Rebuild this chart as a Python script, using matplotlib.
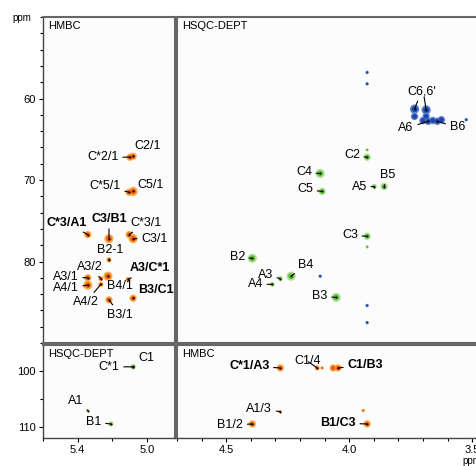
import matplotlib.pyplot as plt
from matplotlib.ticker import MultipleLocator

plt.rcParams['font.family'] = ['Liberation Sans', 'DejaVu Sans']

# HMBC, anomeric 1H vs ring 13C (top left)
hmbc_ring_labels = ['C*2/1', 'C2/1', 'C*5/1', 'C5/1', 'C*3/A1', 'C3/B1', 'C*3/1', 'C3/1',
                    'B2-1', 'A3/2', 'A3/1', 'A4/1', 'A4/2', 'B4/1', 'A3/C*1', 'B3/C1', 'B3/1']
hmbc_ring_h = [5.099, 5.081, 5.104, 5.081, 5.342, 5.220, 5.104, 5.081,
               5.220, 5.267, 5.342, 5.342, 5.267, 5.226, 5.110, 5.081, 5.220]
hmbc_ring_c = [67.2, 67.1, 71.5, 71.4, 76.7, 77.2, 76.7, 77.2,
               79.8, 82.1, 82.0, 82.9, 82.8, 81.8, 82.2, 84.5, 84.7]
hmbc_ring_int = [2, 2, 2, 3, 2, 3, 2, 3, 1, 1, 2, 3, 1, 3, 1, 2, 2]

# HSQC-DEPT, ring region (top right)
hsqc_ring_labels = ['C2', 'C4', 'C5', 'A5', 'B5', 'C3', 'B2', 'A3', 'B4', 'A4', 'B3']
hsqc_ring_h = [3.927, 4.118, 4.110, 3.898, 3.858, 3.927, 4.394, 4.280, 4.236, 4.313, 4.053]
hsqc_ring_c = [67.2, 69.2, 71.4, 70.8, 70.8, 76.9, 79.6, 82.1, 81.8, 82.8, 84.4]
hsqc_ring_int = [2, 3, 2, 1, 2, 2, 3, 1, 3, 1, 3]
hsqc_extra_h = [3.927, 3.927]
hsqc_extra_c = [66.3, 78.2]

# CH2 (negative DEPT phase)
ch2_labels = ["C6,6'", 'A6', 'B6']
ch2_h = [3.734, 3.679, 3.642]
ch2_c = [61.3, 62.8, 62.8]
ch2_peak2_h = 3.687
ch2_peak2_c = 61.4
ch2_extra_h = [3.700, 3.660, 3.625, 3.734, 3.687, 3.927, 3.927, 3.524, 4.118, 3.927, 3.927]
ch2_extra_c = [62.7, 62.7, 62.6, 62.2, 62.2, 56.8, 58.2, 62.6, 81.8, 85.4, 87.5]
ch2_extra_int = [2, 2, 2, 2, 2, 0, 0, 0, 0, 0, 0]

# HSQC-DEPT, anomeric region (bottom left)
hsqc_ano_labels = ['C*1', 'C1', 'A1', 'B1']
hsqc_ano_h = [5.081, 5.081, 5.342, 5.209]
hsqc_ano_c = [99.3, 99.3, 107.1, 109.5]
hsqc_ano_int = [1, 1, 0, 1]

# HMBC, ring 1H vs anomeric 13C (bottom right)
hmbc_ano_labels = ['C*1/A3', 'C1/4', 'C1/B3', 'A1/3', 'B1/2', 'B1/C3']
hmbc_ano_h = [4.280, 4.130, 4.045, 4.280, 4.394, 3.927]
hmbc_ano_c = [99.5, 99.5, 99.5, 107.3, 109.5, 109.5]
hmbc_ano_int = [2, 1, 2, 0, 2, 2]
hmbc_extra_h = [4.065, 4.110, 3.943]
hmbc_extra_c = [99.5, 99.5, 107.1]
hmbc_extra_int = [2, 0, 0]

bold_labels = {'C*3/A1', 'C3/B1', 'A3/C*1', 'B3/C1', 'C*1/A3', 'C1/B3', 'B1/C3'}

# label offsets from the cross-peak, in pixels
offsets = {
    'C*2/1': (-27, 0), 'C2/1': (15, 10), 'C*5/1': (-24, 6), 'C5/1': (17, 6),
    'C*3/A1': (-21, 12), 'C3/B1': (0, 20), 'C*3/1': (17, 12), 'C3/1': (21, 0),
    'B2-1': (1, 10), 'A3/2': (-11, 12), 'A3/1': (-22, 1), 'A4/1': (-22, -3),
    'A4/2': (-15, -18), 'B4/1': (12, -10), 'A3/C*1': (22, 11), 'B3/C1': (23, 8),
    'B3/1': (11, -15),
    'C2': (-15, 2), 'C4': (-16, 1), 'C5': (-17, 2), 'A5': (-15, 0), 'B5': (4, 12),
    'C3': (-17, 1), 'B2': (-15, 1), 'A3': (-15, 4), 'B4': (15, 11), 'A4': (-17, 0),
    'B3': (-16, 1), "C6,6'": (7, 18), 'A6': (-22, -7), 'B6': (20, -6),
    'C*1': (-24, 0), 'C1': (13, 9), 'A1': (-12, 10), 'B1': (-17, 2),
    'C*1/A3': (-31, 2), 'C1/4': (-10, 7), 'C1/B3': (27, 3), 'A1/3': (-21, 3),
    'B1/2': (-22, -1), 'B1/C3': (-29, 1),
}

hmbc_colors = ('#fbb048', '#f05a1a')
hsqc_colors = ('#b3df9b', '#5cba3a')
ch2_colors = ('#5a7fd0', '#1d46a8')
outer_size = {0: 6, 1: 14, 2: 28, 3: 44}

fig = plt.figure(figsize=(4.77, 4.66), dpi=100)
ax_tl = fig.add_axes([0.0901, 0.2639, 0.2767, 0.6996])
ax_tr = fig.add_axes([0.3711, 0.2639, 0.6331, 0.6996])
ax_bl = fig.add_axes([0.0901, 0.0601, 0.2767, 0.1996])
ax_br = fig.add_axes([0.3711, 0.0601, 0.6331, 0.1996])

for ax in (ax_tl, ax_tr):
    ax.set_ylim(90, 50)
for ax in (ax_bl, ax_br):
    ax.set_ylim(112, 95.4)
for ax in (ax_tl, ax_bl):
    ax.set_xlim(5.6, 4.84)
for ax in (ax_tr, ax_br):
    ax.set_xlim(4.7, 3.472)

for ax in (ax_tl, ax_tr, ax_bl, ax_br):
    ax.set_facecolor('#fcfcfc')
    for sp in ax.spines.values():
        sp.set_color('#666666')
        sp.set_linewidth(1.5)
    ax.tick_params(which='both', left=False, bottom=False, labelleft=False,
                   labelbottom=False, direction='out', labelsize=8, width=0.8)

for ax in (ax_tl, ax_bl):
    ax.spines['left'].set_linewidth(1.0)
    ax.spines['left'].set_color('#444444')
    ax.tick_params(which='major', left=True, labelleft=True, length=3, pad=2)
    ax.tick_params(which='minor', left=True, length=2)
for ax in (ax_bl, ax_br):
    ax.spines['bottom'].set_linewidth(1.0)
    ax.spines['bottom'].set_color('#444444')
    ax.tick_params(which='major', bottom=True, labelbottom=True, length=3, pad=2)
    ax.tick_params(which='minor', bottom=True, length=2)

ax_tl.set_yticks([60, 70, 80])
ax_tl.yaxis.set_minor_locator(MultipleLocator(2))
ax_bl.set_yticks([100, 110])
ax_bl.yaxis.set_minor_locator(MultipleLocator(5))
ax_bl.set_xticks([5.4, 5.0])
ax_bl.set_xticklabels(['5.4', '5.0'])
ax_bl.xaxis.set_minor_locator(MultipleLocator(0.2))
ax_br.set_xticks([4.5, 4.0, 3.5])
ax_br.xaxis.set_minor_locator(MultipleLocator(0.1))


def draw_peaks(ax, hs, cs, ints, colors):
    ax.scatter(hs, cs, s=[outer_size[i] for i in ints], color=colors[0],
               linewidths=0, zorder=2)
    ax.scatter(hs, cs, s=[outer_size[i] * 0.4 for i in ints], color=colors[1],
               linewidths=0, zorder=3)


def label_peaks(ax, labels, hs, cs):
    for lab, h, c in zip(labels, hs, cs):
        ax.annotate(lab, xy=(h, c), xytext=offsets[lab], textcoords='offset pixels',
                    ha='center', va='center', fontsize=9,
                    fontweight='bold' if lab in bold_labels else 'normal',
                    arrowprops=dict(arrowstyle='-', color='black', lw=0.8,
                                    shrinkA=1, shrinkB=0), zorder=5)
    ax.scatter(hs, cs, s=2, color='black', linewidths=0, zorder=4)


# top left: HMBC
draw_peaks(ax_tl, hmbc_ring_h, hmbc_ring_c, hmbc_ring_int, hmbc_colors)
label_peaks(ax_tl, hmbc_ring_labels, hmbc_ring_h, hmbc_ring_c)

# top right: HSQC-DEPT
draw_peaks(ax_tr, hsqc_ring_h, hsqc_ring_c, hsqc_ring_int, hsqc_colors)
draw_peaks(ax_tr, hsqc_extra_h, hsqc_extra_c, [0, 0], hsqc_colors)
draw_peaks(ax_tr, ch2_extra_h, ch2_extra_c, ch2_extra_int, ch2_colors)
draw_peaks(ax_tr, ch2_h + [ch2_peak2_h], ch2_c + [ch2_peak2_c], [3, 2, 2, 3], ch2_colors)
label_peaks(ax_tr, hsqc_ring_labels, hsqc_ring_h, hsqc_ring_c)
label_peaks(ax_tr, ch2_labels, ch2_h, ch2_c)
# second line from the C6,6' label down to the C6' peak
ax_tr.annotate('', xy=(ch2_peak2_h, ch2_peak2_c),
               xytext=(-2, 13), textcoords='offset pixels',
               arrowprops=dict(arrowstyle='-', color='black', lw=0.8,
                               shrinkA=0, shrinkB=0), zorder=5)
ax_tr.scatter([ch2_peak2_h], [ch2_peak2_c], s=2, color='black', linewidths=0, zorder=4)

# bottom left: HSQC-DEPT
draw_peaks(ax_bl, hsqc_ano_h, hsqc_ano_c, hsqc_ano_int, hsqc_colors)
label_peaks(ax_bl, hsqc_ano_labels, hsqc_ano_h, hsqc_ano_c)

# bottom right: HMBC
draw_peaks(ax_br, hmbc_extra_h, hmbc_extra_c, hmbc_extra_int, hmbc_colors)
draw_peaks(ax_br, hmbc_ano_h, hmbc_ano_c, hmbc_ano_int, hmbc_colors)
label_peaks(ax_br, hmbc_ano_labels, hmbc_ano_h, hmbc_ano_c)

# panel titles
for ax, title in ((ax_tl, 'HMBC'), (ax_tr, 'HSQC-DEPT'),
                  (ax_bl, 'HSQC-DEPT'), (ax_br, 'HMBC')):
    ax.annotate(title, xy=(0, 1), xycoords='axes fraction', xytext=(5, -4),
                textcoords='offset pixels', ha='left', va='top', fontsize=8)

fig.text(12 / 477, 1 - 18 / 466, 'ppm', fontsize=7, ha='left', va='center')
fig.text(462 / 477, 1 - 461 / 466, 'ppm', fontsize=7, ha='left', va='center')

fig.savefig('out.png', dpi=100)
